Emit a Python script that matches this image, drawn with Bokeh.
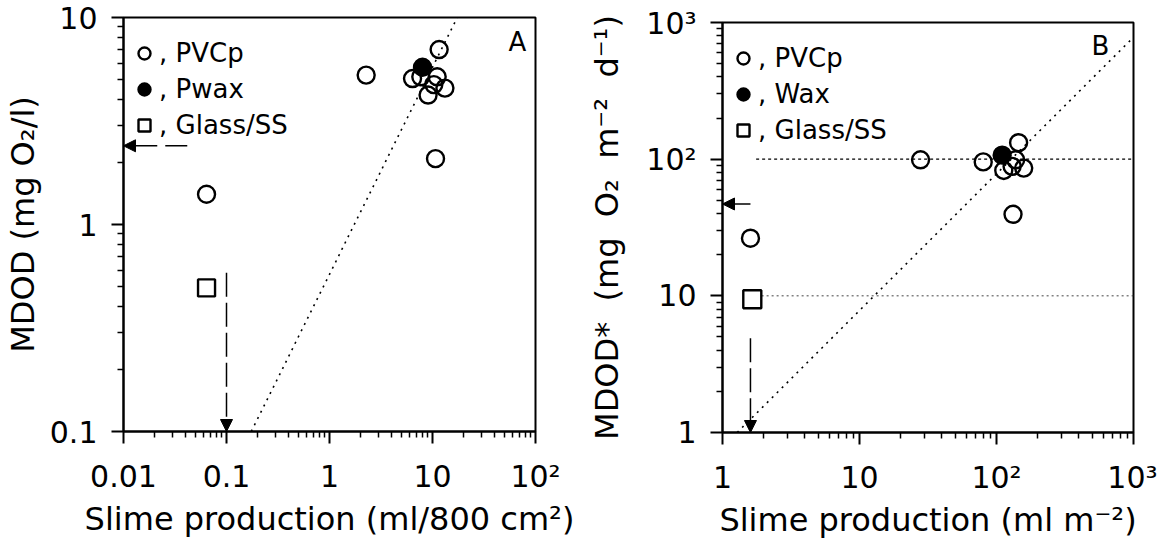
from bokeh.plotting import figure
from bokeh.layouts import row, column
from bokeh.models import FixedTicker, Arrow, NormalHead, Label, Legend, LegendItem, Spacer
from bokeh.embed import file_html
from bokeh.resources import INLINE

FONT = "DejaVu Sans"

# ---------------- Panel A data ----------------
a_pvcp_x = [0.064, 2.27, 11.6, 6.4, 7.7, 11.1, 10.3, 13.2, 9.06, 10.7]
a_pvcp_y = [1.40, 5.27, 7.0, 5.07, 5.17, 5.17, 4.74, 4.56, 4.22, 2.08]
a_wax_x = [8.0]
a_wax_y = [5.75]
a_glass_x = [0.064]
a_glass_y = [0.494]
a_fit_x = [0.174, 17.4]
a_fit_y = [0.1, 10.0]
a_harrow = dict(x0=0.0416, x1=0.01, y=2.40)
a_varrow = dict(x=0.1, y0=0.585, y1=0.1)
a_xticks = [0.01, 0.1, 1, 10, 100]
a_xlabels = ["0.01", "0.1", "1", "10", "10²"]
a_yticks = [0.1, 1, 10]
a_ylabels = ["0.1", "1", "10"]

# ---------------- Panel B data ----------------
b_pvcp_x = [1.60, 27.9, 80, 145, 138, 158, 113, 130, 132]
b_pvcp_y = [26.4, 98.9, 95.5, 132, 98.9, 86, 82.7, 88.5, 39.5]
b_wax_x = [110]
b_wax_y = [107]
b_glass_x = [1.65]
b_glass_y = [9.44]
b_fit_x = [1.28, 1000]
b_fit_y = [1.0, 780]
b_ref_y = [100, 10]
b_ref_x0 = [1.76, 1.93]
b_ref_x1 = [1000, 1000]
b_harrow = dict(x0=1.6, x1=1.0, y=47)
b_varrow = dict(x=1.6, y0=4.9, y1=1.0)
b_xticks = [1, 10, 100, 1000]
b_xlabels = ["1", "10", "10²", "10³"]
b_yticks = [1, 10, 100, 1000]
b_ylabels = ["1", "10", "10²", "10³"]

NB = "\u00a0"


def minor(lo_exp, hi_exp):
    return [m * 10.0 ** k for k in range(lo_exp, hi_exp) for m in range(2, 10)]


def style(p, xt, xl, yt, yl, xminor, yminor, xtitle, ytitle):
    p.xgrid.visible = False
    p.ygrid.visible = False
    p.outline_line_color = "black"
    p.outline_line_width = 2
    p.background_fill_color = "white"
    p.border_fill_color = "white"
    p.xaxis.ticker = FixedTicker(ticks=xt, minor_ticks=xminor)
    p.yaxis.ticker = FixedTicker(ticks=yt, minor_ticks=yminor)
    p.xaxis.major_label_overrides = {t: l for t, l in zip(xt, xl)}
    p.yaxis.major_label_overrides = {t: l for t, l in zip(yt, yl)}
    for ax in (p.xaxis[0], p.yaxis[0]):
        ax.axis_line_width = 2
        ax.axis_line_color = "black"
        ax.major_tick_out = 12
        ax.major_tick_in = 0
        ax.minor_tick_out = 6
        ax.minor_tick_in = 0
        ax.major_tick_line_width = 2
        ax.minor_tick_line_width = 1.5
        ax.major_tick_line_color = "black"
        ax.minor_tick_line_color = "black"
        ax.major_label_text_font = FONT
        ax.major_label_text_font_size = "30px"
        ax.major_label_text_color = "black"
        ax.axis_label_text_font = FONT
        ax.axis_label_text_font_size = "32px"
        ax.axis_label_text_font_style = "normal"
        ax.axis_label_text_color = "black"
    p.xaxis.axis_label = xtitle
    p.yaxis.axis_label = ytitle
    p.xaxis.major_label_standoff = 15
    p.yaxis.major_label_standoff = 14
    p.xaxis.axis_label_standoff = 3


def add_legend(p, rs, labels, frame_h, top_gap):
    leg = Legend(items=[LegendItem(label=l, renderers=[r]) for l, r in zip(labels, rs)])
    leg.margin = 0
    leg.padding = 6
    leg.spacing = 6
    leg.glyph_width = 30
    leg.glyph_height = 30
    leg.label_height = 30
    leg.label_standoff = 0
    leg.label_text_font = FONT
    leg.label_text_font_size = "26px"
    leg.label_text_color = "black"
    leg.background_fill_alpha = 0
    leg.border_line_alpha = 0
    leg_h = 2 * 6 + 3 * 31 + 2 * 6
    leg.location = (0, frame_h - top_gap - leg_h)
    p.add_layout(leg)


def add_arrows(p, h, v, hdash):
    p.add_layout(Arrow(end=NormalHead(size=12, fill_color="black", line_color="black", line_width=1),
                       x_start=h["x0"], y_start=h["y"], x_end=h["x1"], y_end=h["y"],
                       line_color="black", line_width=1.5, line_dash=hdash))
    p.add_layout(Arrow(end=NormalHead(size=12, fill_color="black", line_color="black", line_width=1),
                       x_start=v["x"], y_start=v["y0"], x_end=v["x"], y_end=v["y1"],
                       line_color="black", line_width=1.5, line_dash="24 6"))


# ---------------- Figure A ----------------
pa = figure(x_axis_type="log", y_axis_type="log", x_range=(0.01, 100), y_range=(0.1, 10),
            frame_width=412, frame_height=414, min_border_left=115, min_border_right=45,
            min_border_top=17, min_border_bottom=106,
            output_backend="svg", toolbar_location=None)
style(pa, a_xticks, a_xlabels, a_yticks, a_ylabels, minor(-2, 2), minor(-1, 1),
      "Slime production (ml/800 cm²)", "MDOD (mg O₂/l)")
pa.line(a_fit_x, a_fit_y, line_dash="2 5", line_width=1.6, color="black")
add_arrows(pa, a_harrow, a_varrow, "22 8")
ra1 = pa.scatter(a_pvcp_x, a_pvcp_y, marker="circle", size=17, fill_alpha=0,
                 line_color="black", line_width=2.4)
ra3 = pa.scatter(a_glass_x, a_glass_y, marker="square", size=17, fill_alpha=0,
                 line_color="black", line_width=2.4)
ra2 = pa.scatter(a_wax_x, a_wax_y, marker="circle", size=17, fill_color="black",
                 line_color="black", line_width=2.4)
add_legend(pa, [ra1, ra2, ra3], [", PVCp", ", Pwax", ", Glass/SS"], 414, 12)
pa.add_layout(Label(x=66.8, y=7.65, text="A", text_font=FONT, text_font_size="26px",
                    text_align="center", text_baseline="middle", text_color="black"))

# ---------------- Figure B ----------------
pb = figure(x_axis_type="log", y_axis_type="log", x_range=(1, 1000), y_range=(1, 1000),
            frame_width=411, frame_height=410, min_border_left=142, min_border_right=24,
            min_border_top=17, min_border_bottom=105,
            output_backend="svg", toolbar_location=None)
style(pb, b_xticks, b_xlabels, b_yticks, b_ylabels, minor(0, 3), minor(0, 3),
      "Slime production (ml m⁻²)",
      "MDOD*" + NB + " (mg" + NB + " O₂" + NB + " m⁻²" + NB + " d⁻¹)")
pb.yaxis.axis_label_standoff = 17
pb.segment(x0=b_ref_x0[:1], y0=b_ref_y[:1], x1=b_ref_x1[:1], y1=b_ref_y[:1],
           line_dash="3 3", line_width=1.4, color="black")
pb.segment(x0=b_ref_x0[1:], y0=b_ref_y[1:], x1=b_ref_x1[1:], y1=b_ref_y[1:],
           line_dash="2 3", line_width=1.0, color="#444444")
pb.line(b_fit_x, b_fit_y, line_dash="2 5", line_width=1.6, color="black")
add_arrows(pb, b_harrow, b_varrow, "solid")
rb1 = pb.scatter(b_pvcp_x, b_pvcp_y, marker="circle", size=17, fill_alpha=0,
                 line_color="black", line_width=2.4)
rb3 = pb.scatter(b_glass_x, b_glass_y, marker="square", size=18, fill_alpha=0,
                 line_color="black", line_width=2.4)
rb2 = pb.scatter(b_wax_x, b_wax_y, marker="circle", size=17, fill_color="black",
                 line_color="black", line_width=2.4)
add_legend(pb, [rb1, rb2, rb3], [", PVCp", ", Wax", ", Glass/SS"], 410, 12)
pb.add_layout(Label(x=574, y=668, text="B", text_font=FONT, text_font_size="26px",
                    text_align="center", text_baseline="middle", text_color="black"))

layout = row(pa, column(Spacer(width=10, height=5), pb))
open("out.html", "w").write(file_html(layout, INLINE))
